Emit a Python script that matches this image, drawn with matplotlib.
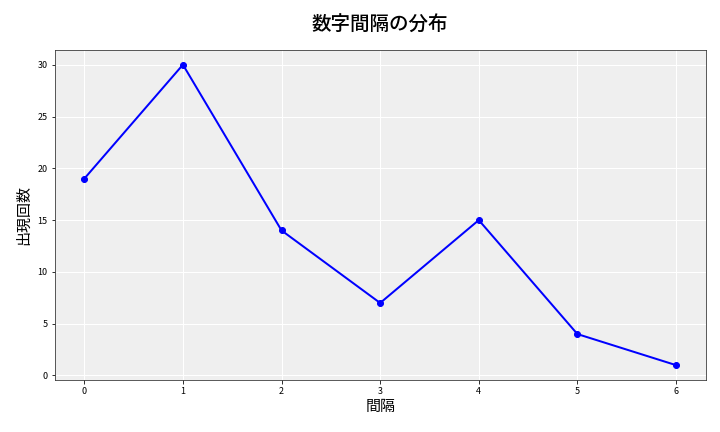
import matplotlib
matplotlib.use("Agg")
import matplotlib.pyplot as plt

plt.rcParams['font.family'] = ['Noto Sans CJK JP', 'DejaVu Sans']

intervals = [0, 1, 2, 3, 4, 5, 6]
counts = [19, 30, 14, 7, 15, 4, 1]

fig, ax = plt.subplots(figsize=(10, 6), dpi=72)
ax.set_facecolor('#efefef')
ax.grid(True, color='white', linewidth=1)
ax.set_axisbelow(True)

ax.plot(intervals, counts, marker='o', color='blue', linewidth=2, markersize=6)

ax.set_title('数字間隔の分布', fontsize=19.5, pad=19, fontweight='medium')
ax.set_xlabel('間隔', fontsize=15)
ax.set_ylabel('出現回数', fontsize=15, labelpad=7)
ax.tick_params(labelsize=9)
for s in ax.spines.values():
    s.set_color('#333333')

fig.subplots_adjust(left=0.076, right=0.98, top=0.885, bottom=0.12)
fig.savefig('out.png', dpi=72)
